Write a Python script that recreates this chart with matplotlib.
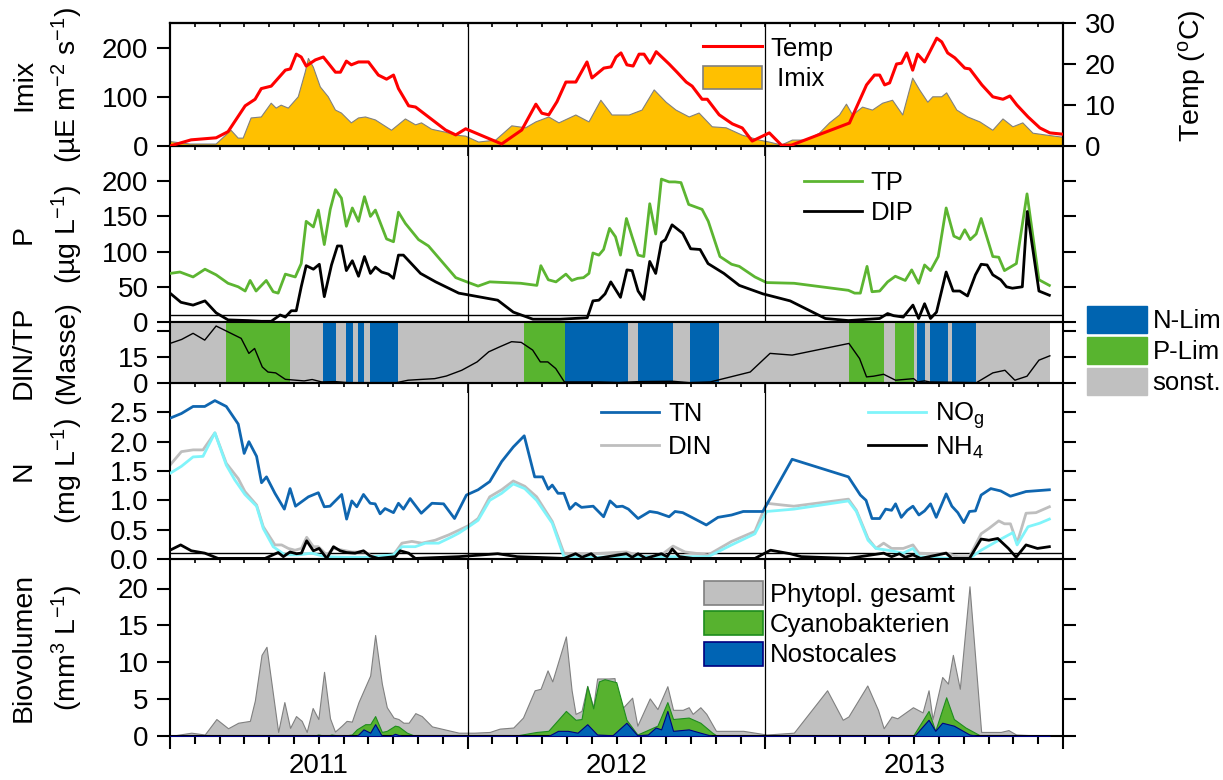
import matplotlib.pyplot as plt
import matplotlib.ticker as mticker
from matplotlib.patches import Patch
from matplotlib.lines import Line2D

plt.rcParams['font.family'] = ['Liberation Sans', 'DejaVu Sans']
plt.rcParams['mathtext.default'] = 'regular'

# x values: months since 1 Jan 2011

# --- Imix / Temp ---
t_imix = [0, 0.81, 1.86, 2.46, 2.75, 2.95, 3.27, 3.68, 4.08, 4.28,
          4.48, 4.77, 5.17, 5.45, 5.58, 5.78, 6.06, 6.38, 6.67, 6.91,
          7.31, 7.6, 7.88, 8.28, 8.93, 9.49, 9.9, 10.14, 10.55, 11.11,
          11.52, 11.92, 12.44, 13.13, 13.78, 14.34, 14.75, 15.27, 15.68, 16.36,
          16.89, 17.37, 17.82, 18.51, 19.03, 19.52, 20.0, 20.4, 20.93, 21.33,
          21.86, 22.42, 23.07, 23.76, 24.16, 24.65, 25.09, 25.66, 26.18, 26.59,
          26.99, 27.27, 27.52, 27.92, 28.32, 28.73, 29.13, 29.54, 29.94, 30.22,
          30.55, 30.75, 31.11, 31.31, 31.72, 32.16, 32.65, 33.17, 33.58, 33.98,
          34.38, 34.79, 35.35, 35.96]
imix = [9, 4, 4, 32, 16, 16, 57, 59, 87, 77,
        83, 77, 100, 150, 178, 160, 120, 100, 73, 67,
        47, 57, 59, 53, 32, 55, 43, 47, 34, 28,
        22, 20, 8, 12, 41, 37, 49, 59, 47, 63,
        49, 93, 63, 63, 73, 114, 89, 73, 59, 67,
        39, 37, 22, 12, 8, 2, 12, 12, 26, 47,
        63, 85, 63, 79, 73, 87, 93, 63, 138, 114,
        89, 100, 100, 108, 73, 59, 49, 32, 55, 39,
        47, 26, 22, 18]

t_temp = [0, 0.85, 1.86, 2.34, 3.03, 3.43, 3.68, 4.08, 4.65, 4.85,
          5.09, 5.29, 5.49, 5.86, 6.18, 6.38, 6.67, 6.87, 7.11, 7.31,
          7.6, 8.0, 8.4, 8.73, 9.01, 9.21, 9.62, 9.9, 11.11, 11.52,
          11.92, 13.37, 14.18, 14.75, 14.99, 15.27, 15.6, 15.96, 16.36, 16.81,
          17.01, 17.49, 17.78, 17.98, 18.18, 18.42, 18.67, 18.91, 19.11, 19.35,
          19.6, 20.12, 20.44, 20.81, 21.05, 21.45, 21.66, 22.14, 22.67, 23.07,
          23.47, 24.16, 24.65, 25.05, 27.39, 28.08, 28.4, 28.61, 28.81, 29.01,
          29.29, 29.49, 29.7, 29.94, 30.14, 30.42, 30.91, 31.11, 31.35, 31.64,
          32.04, 32.24, 32.73, 33.17, 33.58, 33.86, 34.14, 34.59, 35.07, 35.47,
          35.96]
temp = [0, 1.5, 2, 3.5, 9.8, 11.4, 14, 14.6, 18.5, 18.8,
        22.4, 21.7, 19.5, 21, 21.7, 20.2, 18, 18, 20.7, 19.8,
        20.5, 20.5, 17.3, 16.3, 17.3, 14, 9.8, 9.5, 3.9, 2.7,
        4.2, 0.5, 3.9, 10.2, 8, 7.6, 10.8, 15.6, 15.6, 20.5,
        16.6, 19, 19.3, 21.7, 22.7, 19.8, 19.5, 22.4, 22.4, 20.2,
        23, 20, 18, 15.6, 14.6, 11.4, 11.4, 7.6, 5.4, 4.4,
        1.2, 3.2, 0.2, 0.2, 5.6, 14.9, 17.3, 17.3, 14.9, 15.4,
        20, 20.2, 22.7, 18.5, 22.4, 20.5, 26.3, 25.4, 22.7, 21.5,
        19, 18.8, 14.9, 12, 11.4, 12.2, 10, 7.1, 4.4, 3.2,
        2.9]

# --- Phosphorus ---
t_tp = [0, 0.4, 0.93, 1.41, 1.86, 2.34, 2.75, 3.03, 3.23, 3.47,
        3.88, 4.16, 4.36, 4.65, 5.05, 5.29, 5.49, 5.78, 5.98, 6.22,
        6.46, 6.67, 6.91, 7.11, 7.35, 7.6, 7.84, 8.08, 8.28, 8.73,
        9.01, 9.21, 9.49, 10.02, 10.42, 11.52, 12.04, 12.42, 12.89, 14.14,
        14.79, 14.95, 15.25, 15.56, 15.96, 16.2, 16.43, 16.67, 16.89, 17.05,
        17.29, 17.48, 17.72, 17.96, 18.16, 18.4, 18.63, 18.87, 19.1, 19.34,
        19.58, 19.81, 20.12, 20.36, 20.6, 20.91, 21.45, 21.7, 22.17, 22.64,
        22.95, 23.58, 24.05, 25.16, 27.35, 27.6, 27.83, 28.1, 28.3, 28.61,
        28.93, 29.24, 29.64, 29.9, 30.18, 30.42, 30.66, 30.97, 31.29, 31.6,
        31.84, 32.04, 32.26, 32.5, 32.7, 33.17, 33.41, 33.64, 34.12, 34.55,
        35.03, 35.45]
tp = [69, 71, 64, 75, 67, 55, 50, 44, 59, 44,
      59, 43, 41, 68, 64, 83, 143, 135, 159, 110,
      160, 188, 176, 136, 162, 143, 178, 150, 159, 118,
      114, 156, 140, 117, 108, 63, 56, 51, 57, 55,
      52, 80, 60, 57, 68, 59, 62, 63, 69, 98,
      95, 103, 133, 121, 95, 147, 121, 95, 93, 168,
      125, 203, 199, 199, 198, 167, 160, 143, 93, 82,
      79, 64, 56, 55, 45, 41, 41, 79, 43, 44,
      57, 65, 59, 74, 55, 81, 73, 93, 162, 122,
      118, 131, 117, 125, 147, 93, 92, 73, 83, 182,
      60, 52]

t_dip = [0, 0.44, 0.93, 1.41, 1.86, 2.34, 3.15, 3.68, 4.08, 4.44,
         4.65, 4.89, 5.09, 5.29, 5.49, 5.78, 6.02, 6.22, 6.51, 6.75,
         6.91, 7.11, 7.35, 7.6, 7.84, 8.08, 8.28, 8.53, 8.81, 9.01,
         9.21, 9.41, 10.1, 10.71, 11.35, 11.64, 12.11, 12.89, 13.21, 13.84,
         14.63, 15.72, 16.82, 17.05, 17.29, 17.54, 17.77, 18.16, 18.42, 18.63,
         18.87, 19.1, 19.34, 19.58, 19.81, 19.97, 20.24, 20.67, 20.99, 21.37,
         21.69, 22.33, 22.95, 23.9, 25.0, 26.42, 27.35, 28.61, 28.93, 29.17,
         29.56, 29.95, 30.18, 30.42, 30.66, 30.9, 31.29, 31.57, 31.84, 32.15,
         32.47, 32.7, 32.94, 33.17, 33.49, 33.72, 33.96, 34.36, 34.56, 35.03,
         35.45]
dip = [41, 28, 24, 30, 13, 3, 2, 1, 1, 10,
       7, 16, 16, 50, 80, 75, 82, 36, 81, 108,
       108, 73, 87, 65, 93, 69, 78, 71, 68, 62,
       95, 95, 69, 57, 46, 41, 38, 33, 31, 14,
       4, 4, 6, 30, 31, 40, 57, 35, 74, 73,
       44, 32, 86, 69, 113, 117, 138, 126, 104, 103,
       83, 69, 52, 40, 30, 5, 2, 5, 12, 9,
       7, 24, 5, 26, 5, 14, 71, 44, 44, 37,
       67, 82, 81, 67, 60, 50, 48, 50, 157, 44,
       38]

# --- DIN/TP and limitation periods ---
t_ratio = [0, 0.47, 0.93, 1.4, 1.86, 2.33, 2.87, 3.18, 3.41, 3.72,
           3.95, 4.26, 4.65, 5.41, 5.73, 6.12, 6.66, 7.19, 9.13, 9.6,
           10.06, 10.67, 11.14, 11.76, 12.38, 12.85, 13.3, 13.77, 14.16, 14.62,
           14.93, 15.23, 15.55, 15.9, 17.29, 18.1, 18.91, 20.26, 20.93, 21.78,
           23.39, 24.19, 25.08, 27.37, 27.8, 28.08, 28.36, 28.77, 29.25, 29.98,
           30.14, 30.42, 30.62, 32.51, 33.17, 33.66, 34.06, 34.55, 35.03, 35.47]
ratio = [22.7, 25, 28.5, 24.6, 32.7, 29.4, 25.6, 17, 19.8, 9.2,
         6.3, 5.8, 2.1, 1.2, 2, 0.6, 0.8, 0.2, 0.2, 1.6,
         2, 2.5, 4, 7.3, 12.1, 17.9, 20.8, 23.7, 23.3, 18.9,
         12.1, 12.1, 8.3, 0.6, 0.6, 0.3, 0.8, 1, 0.2, 0.6,
         6.3, 17, 16, 22.7, 14, 3.5, 3.9, 5, 1.6, 2.5,
         0.6, 1.2, 0.6, 0.2, 5.8, 7.3, 1.6, 3.9, 13.1, 15.6]

lim_edges = [0, 2.26, 4.85, 6.16, 6.69, 7.09, 7.39, 7.58, 7.82, 8.05,
             9.21, 14.26, 15.94, 18.45, 18.85, 20.28, 20.95, 22.14, 27.37, 28.8,
             29.21, 29.98, 30.13, 30.42, 30.62, 31.37, 31.53, 32.51, 35.47]
lim_kind = ['s', 'P', 's', 'N', 's', 'N', 's', 'N', 's',
            'N', 's', 'P', 'N', 's', 'N', 's', 'N', 's', 'P',
            's', 'P', 's', 'N', 's', 'N', 's', 'N', 's']

# --- Nitrogen ---
t_tn = [0, 0.46, 0.93, 1.4, 1.81, 2.27, 2.75, 2.99, 3.18, 3.49,
        3.69, 3.89, 4.23, 4.61, 4.84, 5.06, 5.58, 5.98, 6.22, 6.45,
        6.92, 7.12, 7.33, 7.53, 7.8, 8.07, 8.27, 8.47, 8.67, 9.01,
        9.21, 9.41, 9.68, 10.13, 10.56, 11.03, 11.47, 11.95, 12.42, 12.89,
        13.37, 13.84, 14.28, 14.7, 15.02, 15.25, 15.41, 15.64, 15.88, 16.12,
        16.35, 16.59, 17.06, 17.48, 17.74, 18.0, 18.24, 18.48, 18.87, 19.34,
        19.65, 20.12, 20.36, 20.67, 20.99, 21.62, 22.09, 22.64, 23.11, 23.9,
        25.08, 27.35, 27.83, 28.06, 28.3, 28.61, 28.85, 29.09, 29.25, 29.48,
        29.72, 29.95, 30.19, 30.42, 30.66, 30.89, 31.29, 31.52, 31.76, 32.0,
        32.23, 32.47, 32.7, 33.09, 33.49, 33.88, 34.51, 35.45]
tn = [2.4, 2.48, 2.6, 2.6, 2.7, 2.6, 2.3, 1.8, 2.0, 1.75,
      1.3, 1.4, 1.12, 0.85, 1.2, 0.9, 1.06, 1.13, 0.89, 0.9,
      1.1, 0.68, 0.99, 0.89, 1.1, 0.95, 0.94, 0.77, 0.86, 0.79,
      0.95, 0.85, 1.03, 0.78, 0.95, 0.94, 0.69, 1.09, 1.18, 1.32,
      1.66, 1.91, 2.1, 1.4, 1.4, 1.19, 1.26, 1.12, 1.12, 0.85,
      0.95, 0.88, 0.9, 0.72, 0.99, 0.89, 0.9, 0.85, 0.69, 0.81,
      0.79, 0.72, 0.81, 0.79, 0.72, 0.58, 0.71, 0.75, 0.81, 0.81,
      1.7, 1.4, 1.09, 1.0, 0.69, 0.69, 0.85, 0.83, 0.94, 0.71,
      0.83, 0.9, 0.75, 0.82, 0.94, 0.71, 1.11, 0.9, 0.79, 0.62,
      0.81, 0.82, 1.09, 1.2, 1.16, 1.07, 1.15, 1.18]

t_din = [0, 0.46, 0.93, 1.33, 1.81, 2.27, 2.75, 3.02, 3.49, 3.76,
         4.23, 4.5, 4.77, 5.04, 5.3, 5.51, 5.78, 5.98, 6.32, 6.59,
         7.33, 7.87, 8.27, 9.01, 9.35, 9.75, 10.15, 10.69, 11.23, 11.64,
         12.04, 12.42, 12.89, 13.37, 13.84, 14.3, 14.78, 15.41, 15.88, 16.35,
         16.98, 18.4, 19.02, 19.81, 20.28, 20.76, 21.7, 22.64, 23.58, 24.05,
         24.69, 25.15, 27.35, 27.67, 28.14, 28.46, 28.77, 29.09, 29.56, 29.95,
         30.19, 30.82, 31.29, 31.76, 32.23, 32.7, 33.01, 33.41, 33.64, 33.88,
         34.15, 34.51, 34.91, 35.45]
din = [1.6, 1.83, 1.86, 1.86, 2.15, 1.63, 1.37, 1.15, 0.92, 0.55,
       0.24, 0.24, 0.18, 0.15, 0.18, 0.37, 0.21, 0.21, 0.07, 0.18,
       0.12, 0.12, 0.01, 0.07, 0.27, 0.3, 0.27, 0.32, 0.41, 0.49,
       0.57, 0.69, 1.06, 1.18, 1.33, 1.24, 1.06, 0.64, 0.1, 0.09,
       0.09, 0.12, 0.04, 0.07, 0.22, 0.12, 0.07, 0.3, 0.47, 0.95,
       0.92, 0.9, 1.02, 0.83, 0.35, 0.18, 0.27, 0.18, 0.18, 0.24,
       0.1, 0.09, 0.1, 0.04, 0.04, 0.43, 0.52, 0.65, 0.6, 0.6,
       0.27, 0.78, 0.79, 0.89]

t_no3 = [0, 0.46, 0.93, 1.33, 1.81, 2.27, 2.61, 3.02, 3.49, 3.76,
         4.16, 4.63, 5.17, 5.71, 6.25, 7.06, 7.87, 9.01, 9.35, 9.89,
         10.29, 10.83, 11.37, 11.64, 12.04, 12.42, 12.89, 13.37, 13.84, 14.3,
         14.78, 15.41, 15.88, 17.13, 18.55, 20.43, 21.7, 22.64, 23.58, 24.05,
         25.15, 27.35, 27.67, 28.14, 28.46, 28.93, 29.56, 29.95, 30.19, 31.44,
         32.23, 32.7, 33.37, 33.98, 34.15, 34.59, 35.06, 35.45]
no3 = [1.46, 1.58, 1.74, 1.75, 2.15, 1.6, 1.35, 1.1, 0.9, 0.52,
       0.21, 0.07, 0.07, 0.1, 0.04, 0.03, 0.03, 0.07, 0.21, 0.21,
       0.27, 0.27, 0.38, 0.44, 0.55, 0.66, 1.0, 1.12, 1.28, 1.2,
       1.0, 0.61, 0.04, 0.03, 0.04, 0.04, 0.04, 0.24, 0.43, 0.81,
       0.85, 0.99, 0.81, 0.32, 0.18, 0.15, 0.1, 0.18, 0.04, 0.01,
       0.01, 0.15, 0.31, 0.45, 0.24, 0.55, 0.61, 0.68]

t_nh4 = [0, 0.43, 0.86, 1.4, 1.94, 3.83, 4.36, 4.57, 4.84, 5.1,
         5.3, 5.51, 5.78, 6.01, 6.32, 6.59, 6.86, 7.12, 7.46, 7.8,
         8.07, 8.4, 9.08, 9.28, 9.62, 9.89, 11.64, 13.21, 14.0, 15.88,
         16.35, 16.61, 16.98, 17.21, 18.4, 18.63, 18.87, 19.18, 19.81, 20.04,
         20.25, 20.53, 21.07, 23.58, 24.21, 25.0, 25.45, 27.35, 28.77, 29.09,
         29.4, 29.64, 29.95, 30.26, 31.29, 31.52, 32.23, 32.7, 33.01, 33.37,
         33.8, 34.11, 34.51, 34.97, 35.45]
nh4 = [0.15, 0.24, 0.14, 0.1, 0.01, 0.01, 0.11, 0.04, 0.12, 0.09,
       0.1, 0.31, 0.14, 0.18, 0.01, 0.21, 0.14, 0.11, 0.1, 0.14,
       0.05, 0.01, 0.04, 0.14, 0.1, 0.01, 0.04, 0.09, 0.04, 0.01,
       0.09, 0.03, 0.09, 0.01, 0.09, 0.03, 0.09, 0.01, 0.09, 0.04,
       0.17, 0.04, 0.01, 0.01, 0.15, 0.09, 0.04, 0.01, 0.1, 0.04,
       0.09, 0.03, 0.07, 0.01, 0.1, 0.01, 0.01, 0.34, 0.32, 0.35,
       0.18, 0.03, 0.24, 0.18, 0.21]

# --- Biovolume ---
t_bio = [0, 0.86, 1.4, 1.87, 2.34, 2.75, 3.22, 3.42, 3.69, 3.89,
         4.36, 4.61, 4.84, 5.08, 5.31, 5.51, 5.75, 5.98, 6.21, 6.45,
         6.65, 6.92, 7.12, 7.33, 7.6, 8.07, 8.27, 8.54, 8.74, 9.01,
         9.21, 9.41, 9.62, 9.89, 10.15, 10.56, 11.64, 12.27, 12.89, 13.29,
         13.84, 14.23, 14.7, 14.94, 15.22, 15.41, 15.96, 16.19, 16.35, 16.59,
         16.82, 17.06, 17.22, 17.68, 17.92, 18.08, 18.63, 18.84, 19.34, 19.65,
         20.05, 20.28, 20.67, 20.91, 21.07, 21.38, 21.62, 22.01, 23.11, 24.05,
         25.15, 26.49, 27.12, 27.35, 28.11, 28.54, 28.77, 29.09, 29.32, 29.95,
         30.34, 30.58, 30.74, 31.13, 31.36, 31.56, 31.84, 32.23, 32.7, 33.49,
         33.8, 34.11, 35.45]
bio_total = [0, 0.45, 0.2, 2.3, 1.05, 1.8, 2.05, 4.8, 11, 12.1,
             0.55, 4.6, 1.1, 2.7, 2.05, 0.55, 3.8, 2.3, 8.7, 2.4,
             0.6, 1.4, 2.05, 1.95, 4.6, 8.2, 13.7, 7.1, 3.9, 2.5,
             2.3, 1.8, 1.8, 3.1, 2.7, 1.3, 0.45, 0.45, 0.55, 1.0,
             1.15, 2.5, 6.2, 6.4, 8.9, 7.4, 13.5, 6.2, 3.0, 3.4,
             6.8, 3.9, 7.8, 7.8, 7.85, 3.2, 5.2, 1.4, 5.1, 3.65,
             6.75, 3.55, 3.55, 3.9, 3.0, 3.9, 3.0, 0.7, 0.7, 0.2,
             0.45, 6.2, 2.2, 2.65, 6.85, 3.55, 1.05, 2.65, 2.4, 3.9,
             3.2, 6.2, 2.3, 8.0, 7.1, 11, 6.4, 20.3, 0.55, 0.55,
             0.8, 0.2, 0]

t_cya = [0, 5.75, 5.98, 6.3, 6.51, 6.91, 7.33, 7.53, 7.87, 8.07,
         8.27, 8.54, 8.74, 9.07, 9.21, 9.55, 9.89, 13.84, 14.78, 15.25,
         15.96, 16.35, 16.59, 16.82, 17.06, 17.29, 17.52, 17.99, 18.4, 18.84,
         19.18, 19.65, 20.05, 20.28, 20.91, 21.38, 21.86, 22.06, 29.95, 30.58,
         30.85, 31.29, 31.6, 32.07, 32.7, 35.45]
cyano = [0, 0, 0.2, 0, 0.2, 0, 0.2, 0.9, 1.6, 1.6,
         2.7, 0.55, 0.7, 1.4, 1.3, 0.45, 0, 0, 0.55, 0.7,
         3.4, 2.2, 2.3, 6.75, 3.75, 7.4, 7.7, 7.3, 2.2, 0.2,
         0.7, 1.4, 4.6, 2.3, 2.5, 1.8, 0.45, 0, 0, 3.4,
         0.7, 5.25, 2.3, 1.15, 0, 0]

t_nos = [0, 7.53, 7.8, 8.07, 8.27, 8.54, 8.89, 9.07, 9.33, 15.25,
         15.64, 16.04, 16.43, 16.82, 17.22, 17.84, 18.4, 18.84, 19.26, 19.58,
         19.8, 20.05, 20.28, 20.91, 21.38, 21.86, 30.0, 30.58, 30.85, 31.13,
         31.6, 32.23, 32.55, 35.45]
nostoc = [0, 0, 0.9, 0.45, 1.6, 0, 0, 0.3, 0, 0,
          0.7, 0.7, 0.45, 1.6, 0.2, 0.1, 1.8, 0.1, 0.2, 1.15,
          0.9, 3.4, 0.7, 0.9, 0.45, 0, 0, 2.2, 0.7, 1.8,
          1.4, 0.2, 0, 0]

years = ['2011', '2012', '2013']

# colours
c_nlim = '#0064B0'
c_plim = '#58B42F'
c_gray = '#C0C0C0'

FS_TICK = 20
FS_LEG = 18.5

fig = plt.figure(figsize=(12.23, 7.8), dpi=100)
L, W = 170 / 1223, 893 / 1223


def box(top, bottom):
    return [L, 1 - bottom / 780, W, (bottom - top) / 780]


ax1 = fig.add_axes(box(23, 146))
ax2 = fig.add_axes(box(146, 322))
ax3 = fig.add_axes(box(322, 383))
ax4 = fig.add_axes(box(383, 559))
ax5 = fig.add_axes(box(559, 736))
axes = [ax1, ax2, ax3, ax4, ax5]

for ax in axes:
    ax.set_facecolor('none')
    ax.set_xlim(0, 36)
    for s in ax.spines.values():
        s.set_linewidth(1.5)
    ax.set_xticks([0, 12, 24, 36])
    ax.set_xticks(range(37), minor=True)
    ax.tick_params(axis='y', direction='out', length=9.5, width=1.5,
                   labelsize=FS_TICK, pad=6, right=True)
    if ax is not ax5:
        ax.tick_params(axis='x', which='major', direction='out', length=7, width=1.2,
                       labelbottom=False)
        ax.tick_params(axis='x', which='minor', direction='out', length=3, width=1.2)
    if ax is not ax3:
        for yv in (12, 24):
            ax.axvline(yv, color='black', lw=0.9, zorder=5)

# panel 1: Imix and temperature
ax1.fill_between(t_imix, imix, 0, facecolor='#FFC000', edgecolor='none', zorder=1)
ax1.plot(t_imix, imix, color='#808080', lw=0.8, zorder=2)
ax1.set_ylim(0, 250)
ax1.set_yticks([0, 100, 200])
ax1.tick_params(axis='y', right=False)
top = ax1.secondary_xaxis('top')
top.set_xticks([0, 12, 24, 36])
top.set_xticks(range(37), minor=True)
top.tick_params(which='both', direction='in', length=3, width=1.2, labeltop=False)
top.spines['top'].set_linewidth(1.5)

ax1r = ax1.twinx()
ax1r.set_facecolor('none')
ax1r.plot(t_temp, temp, color='#FF0000', lw=2.2, zorder=3)
ax1r.set_ylim(0, 30)
ax1r.set_yticks([0, 10, 20, 30])
ax1r.tick_params(axis='y', direction='out', length=9.5, width=1.5, labelsize=FS_TICK, pad=6)
for s in ax1r.spines.values():
    s.set_linewidth(1.5)
ax1r.legend(handles=[Line2D([], [], color='#FF0000', lw=2.2),
                     Patch(facecolor='#FFC000', edgecolor='#808080', lw=1.2)],
            labels=['Temp', ' Imix'], loc='upper left', bbox_to_anchor=(0.597, 0.895),
            frameon=False, fontsize=FS_LEG, handlelength=2.3, handleheight=0.95,
            handletextpad=0.3, labelspacing=0.22, borderpad=0, borderaxespad=0)

# panel 2: phosphorus
ax2.axhline(10, color='black', lw=1.0, zorder=1)
ax2.plot(t_tp, tp, color='#5CB531', lw=2.0, label='TP', zorder=3)
ax2.plot(t_dip, dip, color='black', lw=2.0, label='DIP', zorder=3)
ax2.set_ylim(0, 250)
ax2.set_yticks([0, 50, 100, 150, 200])
ax2.legend(loc='upper left', bbox_to_anchor=(0.71, 0.86), frameon=False, fontsize=FS_LEG,
           handlelength=2.25, handletextpad=0.35, labelspacing=0.25, borderpad=0,
           borderaxespad=0)

# panel 3: DIN/TP with limitation periods
lim_colors = {'N': c_nlim, 'P': c_plim, 's': c_gray}
for a, b, k in zip(lim_edges[:-1], lim_edges[1:], lim_kind):
    ax3.axvspan(a, b, color=lim_colors[k], lw=0, zorder=0)
ax3.plot(t_ratio, ratio, color='black', lw=1.0, zorder=2)
ax3.set_ylim(0, 35)
ax3.set_yticks([0, 15, 30])
ax3.set_yticklabels(['0', '15', ''])
fig.legend(handles=[Patch(color=c_nlim), Patch(color=c_plim), Patch(color=c_gray)],
           labels=['N-Lim', 'P-Lim', 'sonst.'], loc='upper left',
           bbox_to_anchor=(1087 / 1223, 1 - 306 / 780), frameon=False, fontsize=FS_LEG,
           handlelength=2.35, handleheight=1.25, handletextpad=0.2, labelspacing=0.14,
           borderpad=0, borderaxespad=0)

# panel 4: nitrogen
ax4.axhline(0.1, color='black', lw=1.0, zorder=1)
ax4.plot(t_din, din, color='#BEBEBE', lw=2.0, zorder=2)
ax4.plot(t_no3, no3, color='#80F4FA', lw=2.0, zorder=3)
ax4.plot(t_nh4, nh4, color='black', lw=2.0, zorder=4)
ax4.plot(t_tn, tn, color='#0F66B0', lw=2.0, zorder=4)
ax4.set_ylim(0, 3.0)
ax4.set_yticks([0, 0.5, 1.0, 1.5, 2.0, 2.5])
ax4.yaxis.set_major_formatter(mticker.FormatStrFormatter('%.1f'))
leg_a = ax4.legend(handles=[Line2D([], [], color='#0F66B0', lw=2.0),
                            Line2D([], [], color='#BEBEBE', lw=2.0)],
                   labels=['TN', 'DIN'], loc='upper left', bbox_to_anchor=(0.483, 0.89),
                   frameon=False, fontsize=FS_LEG, handlelength=2.25, handletextpad=0.35,
                   labelspacing=0.32, borderpad=0, borderaxespad=0)
ax4.add_artist(leg_a)
ax4.legend(handles=[Line2D([], [], color='#80F4FA', lw=2.0),
                    Line2D([], [], color='black', lw=2.0)],
           labels=['NO$_{g}$', 'NH$_{4}$'], loc='upper left', bbox_to_anchor=(0.782, 0.9),
           frameon=False, fontsize=FS_LEG, handlelength=2.25, handletextpad=0.35,
           labelspacing=0.12, borderpad=0, borderaxespad=0)

# panel 5: biovolume
ax5.fill_between(t_bio, bio_total, 0, facecolor=c_gray, edgecolor='#808080', lw=0.8, zorder=1)
ax5.fill_between(t_cya, cyano, 0, facecolor='#57B22F', edgecolor='#1E8C1E', lw=0.8, zorder=2)
ax5.fill_between(t_nos, nostoc, 0, facecolor='#0064B4', edgecolor='#000080', lw=0.8, zorder=3)
ax5.set_ylim(0, 24)
ax5.set_yticks([0, 5, 10, 15, 20])
ax5.tick_params(axis='x', which='major', direction='out', length=9.5, width=1.5)
ax5.tick_params(axis='x', which='minor', direction='out', length=6, width=1.5,
                labelsize=FS_TICK, pad=6)
ax5.xaxis.set_major_formatter(mticker.NullFormatter())
ax5.xaxis.set_minor_formatter(mticker.FuncFormatter(
    lambda v, p: years[int(round(v)) // 12] if int(round(v)) % 12 == 6 and v < 36 else ''))
ax5.legend(handles=[Patch(facecolor=c_gray, edgecolor='#808080', lw=1.2),
                    Patch(facecolor='#57B22F', edgecolor='#1E8C1E', lw=1.2),
                    Patch(facecolor='#0064B4', edgecolor='#000080', lw=1.2)],
           labels=['Phytopl. gesamt', 'Cyanobakterien', 'Nostocales'], loc='upper left',
           bbox_to_anchor=(0.598, 0.875), frameon=False, fontsize=FS_LEG, handlelength=2.3,
           handleheight=1.05, handletextpad=0.25, labelspacing=0.18, borderpad=0,
           borderaxespad=0)

# y labels (two lines each)
labels = [
    ('Imix', '(µE m$^{-2}$ s$^{-1}$)', 23, 146),
    ('P', '(µg L$^{-1}$)', 146, 322),
    ('DIN/TP', '(Masse)', 322, 383),
    ('N', '(mg L$^{-1}$)', 383, 559),
    ('Biovolumen', '(mm$^{3}$ L$^{-1}$)', 559, 736),
]
for first, second, ytop, ybot in labels:
    yc = 1 - (ytop + ybot) / 2 / 780
    fig.text(24 / 1223, yc, first, rotation=90, ha='center', va='center', fontsize=20.5)
    fig.text(67 / 1223, yc, second, rotation=90, ha='center', va='center', fontsize=20.5)
fig.text(1192 / 1223, 1 - 76 / 780, 'Temp ($^{o}$C)', rotation=90, ha='center', va='center',
         fontsize=20.5)

fig.savefig('out.png', dpi=100)
